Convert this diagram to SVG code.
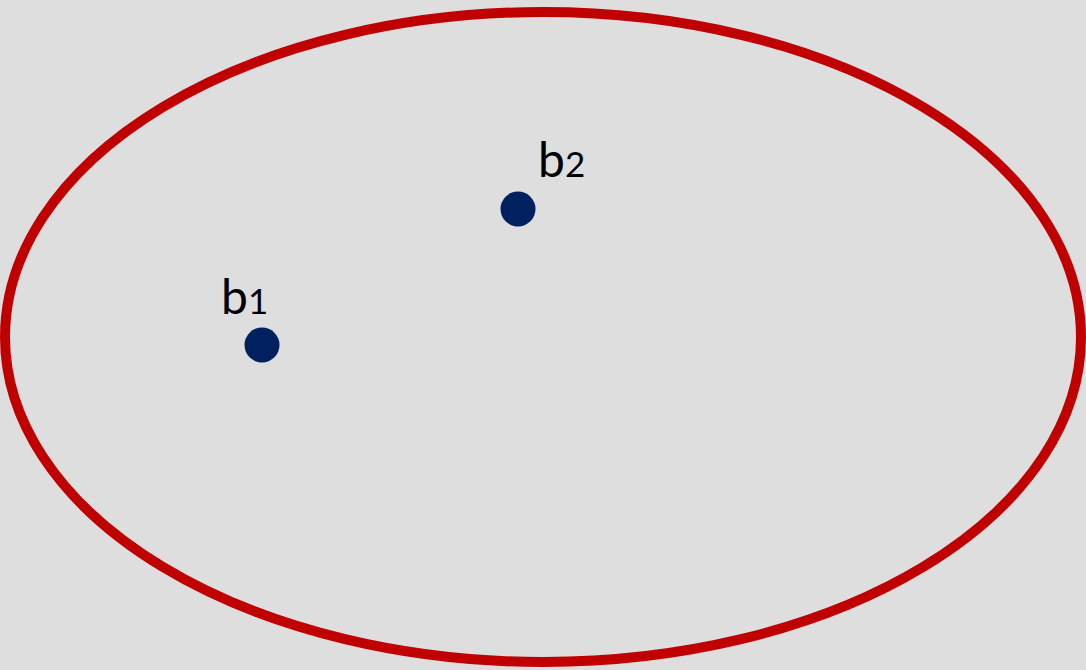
<svg xmlns="http://www.w3.org/2000/svg" width="1086" height="670" viewBox="0 0 1086 670">
<style>
.pt{fill:#002060}
.lb{font-family:Lato,"Open Sans",sans-serif;font-size:48px;fill:#000}
.sm{font-size:35px}
</style>
<rect width="1086" height="670" fill="#DEDEDE"/>
<g id="region">
<ellipse cx="543" cy="337" rx="538" ry="325" fill="none" stroke="#C00000" stroke-width="10"/>
</g>
<g id="b1">
<circle class="pt" cx="262" cy="345" r="17.5"/>
<text class="lb" x="221" y="314">b<tspan class="sm">1</tspan></text>
</g>
<g id="b2">
<circle class="pt" cx="518" cy="209" r="17.5"/>
<text class="lb" x="538" y="177">b<tspan class="sm">2</tspan></text>
</g>
<g id="connectors"/>
</svg>
